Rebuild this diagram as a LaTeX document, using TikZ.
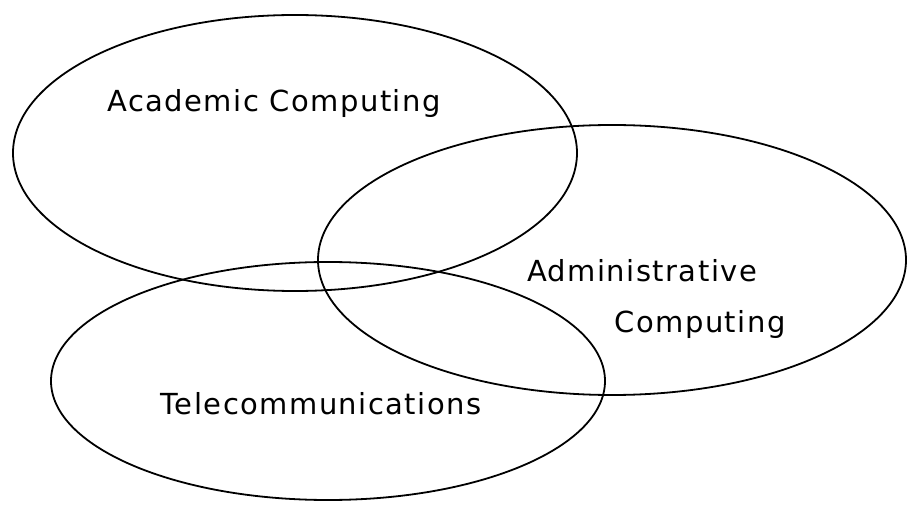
\documentclass[tikz,border=0pt]{standalone}
\usepackage{fontspec}
\newfontfamily\labelfont[LetterSpace=5]{DejaVu Sans}
\begin{document}
\begin{tikzpicture}[x=1pt,y=-1pt,
  setline/.style={draw=black,line width=1.8pt},
  setlabel/.style={font=\labelfont\fontsize{29}{32}\selectfont,inner sep=0pt,anchor=center}]
  \useasboundingbox (0,0) rectangle (911,513);
  % the three overlapping areas
  \draw[setline] (295,153) ellipse [x radius=282, y radius=138];
  \draw[setline] (612,260) ellipse [x radius=294, y radius=135];
  \draw[setline] (328,381) ellipse [x radius=277, y radius=119];
  % their names
  \node[setlabel] (aca) at (274,104) {Academic Computing};
  \node[setlabel] (adm) at (642,271) {Administrative};
  \node[setlabel] (cmp) at (700,324) {Computing};
  \node[setlabel] (tel) at (321,404) {Telecommunications};
\end{tikzpicture}
\end{document}
